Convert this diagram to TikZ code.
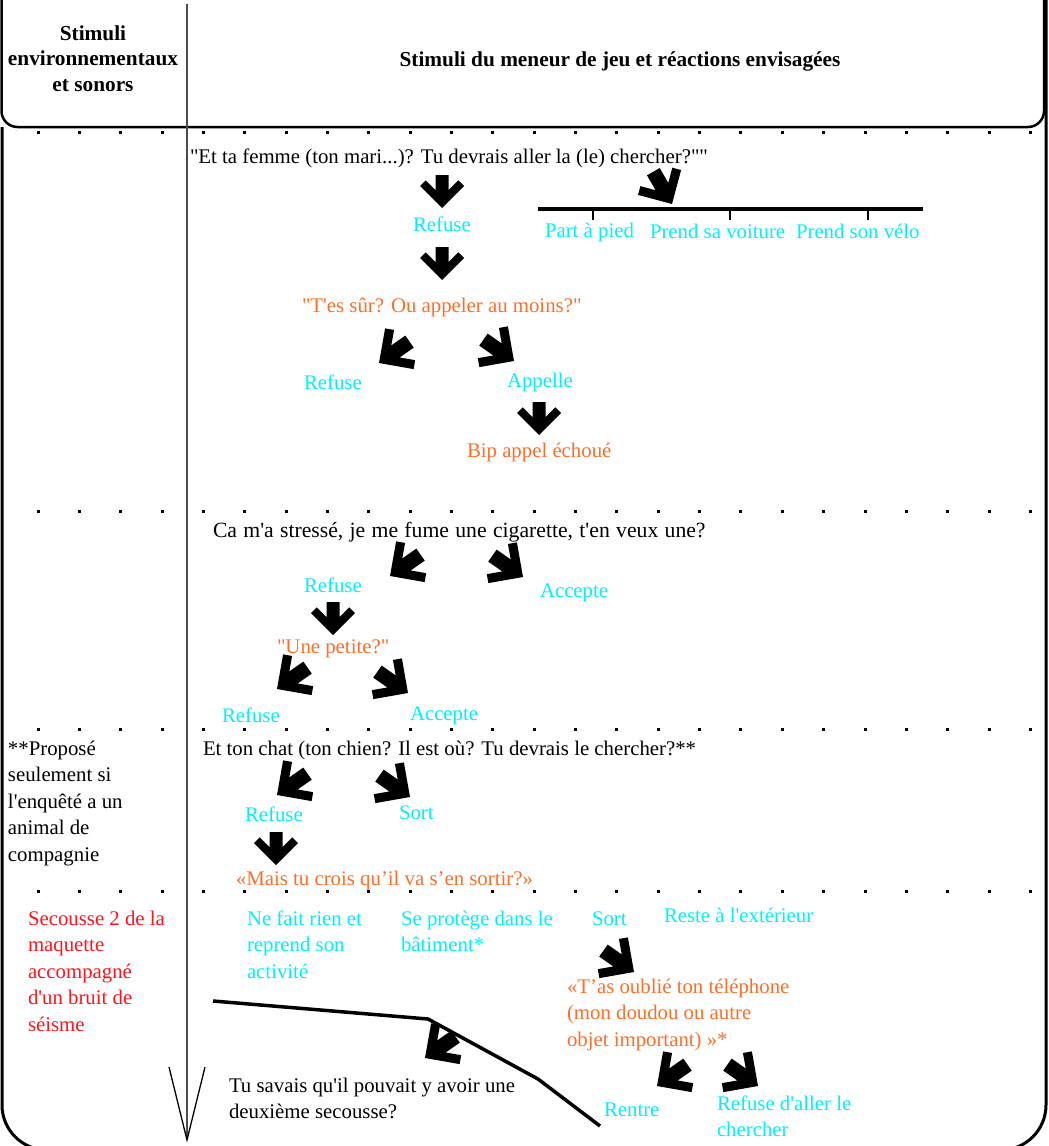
\documentclass[tikz,border=0pt]{standalone}
\usepackage{fontspec}
\newfontfamily\lib{Liberation Serif}
\definecolor{cy}{RGB}{0,240,255}
\definecolor{orng}{RGB}{255,110,40}
\definecolor{rdc}{RGB}{255,20,30}
\newcommand\ml[1]{\vtop{\baselineskip=26.6pt\halign{##\hfil\cr#1\crcr}}}
\newcommand\mcen[1]{\vtop{\baselineskip=25.5pt\halign{\hfil##\hfil\cr#1\crcr}}}
\tikzset{
  txt/.style={inner sep=0pt, outer sep=0pt, anchor=base west, font=\lib\fontsize{20.8}{26.6}\selectfont},
  blk/.style={txt, text=black},
  cyn/.style={txt, text=cy},
  org/.style={txt, text=orng},
  rdtxt/.style={txt, text=rdc},
  hdr/.style={inner sep=0pt, outer sep=0pt, anchor=base, font=\lib\bfseries\fontsize{21.3}{25.5}\selectfont},
  fatarr/.pic={\fill (-6.5,-33) -- (6.5,-33) -- (6.5,-17.8) -- (16.3,-27.7) -- (22,-22) -- (0,0) -- (-22,-22) -- (-16.3,-27.7) -- (-6.5,-17.8) -- cycle;},
  dg/.style={scale=1.13}
}
\begin{document}
\begin{tikzpicture}[x=1pt,y=-1pt]
\useasboundingbox (0,0) rectangle (1049,1146);
% frame
\draw[line width=2.5pt, rounded corners=16pt] (1.5,-30) rectangle (1044,127);
\draw[line width=3pt, rounded corners=45pt] (2,127) -- (2,1150) -- (1046,1150) -- (1046,-5);
% dotted separators
\foreach \yy in {132,511,729,891} {\foreach \k in {0,...,24} {\fill ({38+41.35*\k-1.5},{\yy-1.5}) rectangle ++(3,3);}}
% time axis
\draw[gray!60!black, line width=1.5pt] (187,4) -- (187,1140);
\draw[line width=1.3pt] (169,1067) -- (187,1140) -- (205,1067);
% header
\node[hdr] (h1) at (93,40) {\mcen{Stimuli\cr environnementaux\cr et sonors}};
\node[hdr] (h2) at (620,66) {Stimuli du meneur de jeu et réactions envisagées};
% section 1
\node[blk] (q1) at (190,163) {"Et ta femme (ton mari...)? Tu devrais aller la (le) chercher?""};
\pic at (442,208) {fatarr};
\node[cyn] (r1) at (413,231) {Refuse};
\pic at (442,280) {fatarr};
\draw[line width=4pt] (538,209) -- (923,209);
\foreach \xx in {593,730,868} {\draw[line width=1.3pt] (\xx,209) -- (\xx,220);}
\pic[rotate=30, dg] at (672,204) {fatarr};
\node[cyn] (o1) at (545,237) {Part à pied};
\node[cyn] (o2) at (650,238) {Prend sa voiture};
\node[cyn] (o3) at (796,238) {Prend son vélo};
\node[org] (q2) at (302,312) {"T'es sûr? Ou appeler au moins?"};
\pic[rotate=-55, dg] at (379,363) {fatarr};
\pic[rotate=55, dg] at (514,361) {fatarr};
\node[cyn] (r2) at (304,389) {Refuse};
\node[cyn] (a2) at (507,387) {Appelle};
\pic at (539,435) {fatarr};
\node[org] (b2) at (467,457) {Bip appel échoué};
% section 2
\node[blk, font=\lib\fontsize{21.7}{26.6}\selectfont] (q3) at (213,537) {\spaceskip=6.3pt\relax Ca m'a stressé, je me fume une cigarette, t'en veux une?};
\pic[rotate=-55, dg] at (390,576) {fatarr};
\pic[rotate=55, dg] at (523,577) {fatarr};
\node[cyn] (r3) at (304,592) {Refuse};
\node[cyn] (a3) at (540,597) {Accepte};
\pic at (333,635) {fatarr};
\node[org] (q4) at (277,653) {"Une petite?"};
\pic[rotate=-55, dg] at (277,689) {fatarr};
\pic[rotate=55, dg] at (408,693) {fatarr};
\node[cyn] (r4) at (222,722) {Refuse};
\node[cyn] (a4) at (410,720) {Accepte};
% section 3
\node[blk] (n5) at (8,755) {\ml{**Proposé\cr seulement si\cr l'enquêté a un\cr animal de\cr compagnie}};
\node[blk] (q5) at (203,755) {Et ton chat (ton chien? Il est où? Tu devrais le chercher?**};
\pic[rotate=-55, dg] at (277,795) {fatarr};
\pic[rotate=55, dg] at (410,797) {fatarr};
\node[cyn] (r5) at (245,821) {Refuse};
\node[cyn] (s5) at (399,819) {Sort};
\pic at (276,865) {fatarr};
\node[org] (q6) at (236,885) {«Mais tu crois qu’il va s’en sortir?»};
% section 4
\node[rdtxt] (n7) at (28,925) {\ml{Secousse 2 de la\cr maquette\cr accompagné\cr d'un bruit de\cr séisme}};
\node[cyn] (c1) at (247,925) {\ml{Ne fait rien et\cr reprend son\cr activité}};
\node[cyn] (c2) at (401,925) {\ml{Se protège dans le\cr bâtiment*}};
\node[cyn] (c3) at (592,925) {Sort};
\node[cyn] (c4) at (664,922) {Reste à l'extérieur};
\pic[rotate=55, dg] at (634,972) {fatarr};
\node[org] (q7) at (567,993) {\ml{«T’as oublié ton téléphone\cr (mon doudou ou autre\cr objet important) »*}};
\draw[line width=3.5pt] (213,1001) -- (428,1019) -- (538,1079) -- (600,1126);
\pic[rotate=-55, dg] at (425,1058) {fatarr};
\node[blk] (q8) at (229,1092) {\ml{Tu savais qu'il pouvait y avoir une\cr deuxième secousse?}};
\pic[rotate=-55, dg] at (657,1086) {fatarr};
\pic[rotate=55, dg] at (758,1086) {fatarr};
\node[cyn] (r8) at (604,1116) {Rentre};
\node[cyn] (f8) at (717,1110) {\ml{Refuse d'aller le\cr chercher}};
\end{tikzpicture}
\end{document}
